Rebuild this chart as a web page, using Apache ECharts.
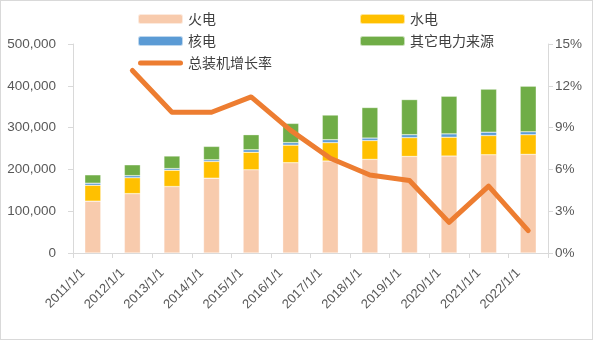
<!DOCTYPE html>
<html><head><meta charset="utf-8">
<script src="https://cdn.jsdelivr.net/npm/echarts@6/dist/echarts.min.js"></script>
<style>
html,body{margin:0;padding:0;background:#fff;}
#wrap{position:absolute;left:0;top:0;width:591px;height:338px;border:1px solid #d9d9d9;}
#c{width:591px;height:338px;}
</style></head>
<body><div id="wrap"><div id="c"></div></div>
<script>
const categories = ['2011/1/1','2012/1/1','2013/1/1','2014/1/1','2015/1/1','2016/1/1','2017/1/1','2018/1/1','2019/1/1','2020/1/1','2021/1/1','2022/1/1'];
const thermal = [124000,142000,159000,179000,199000,216000,220000,224000,231000,232000,235000,236000];
const hydro   = [38000,38000,39000,40000,42000,42000,44000,45000,45000,45000,46000,47000];
const nuclear = [5000,5000,4000,4000,6000,6000,7000,6000,7000,8000,8000,7000];
const other   = [20000,26000,30000,32000,36000,46000,59000,73000,84000,90000,103000,109000];
const growth  = [null,13.1,10.1,10.1,11.2,8.8,6.8,5.6,5.2,2.2,4.8,1.6];
const leftTicks = [0,100000,200000,300000,400000,500000];
const rightTicks = [0,3,6,9,12,15];

const chart = echarts.init(document.getElementById('c'));
const axisCol = '#d9d9d9', txt = '#595959';
const font = 'Liberation Sans, Arial, sans-serif';
const cjk = 'Noto Sans CJK SC, sans-serif';
const barItem = c => ({color:c, borderColor:'rgba(255,255,255,0.6)', borderWidth:0.5});
const lineIcon = 'path://M5,0 H85 A5,5 0 0 1 85,10 H5 A5,5 0 0 1 5,0 Z';
chart.setOption({
  animation:false,
  textStyle:{fontFamily:font},
  legend:[
    {left:131, top:6, orient:'vertical', itemWidth:45, itemHeight:10, itemGap:8,
     textStyle:{fontFamily:cjk, fontSize:14, color:'#404040'},
     data:['火电','核电',{name:'总装机增长率', icon:lineIcon}]},
    {left:353, top:6, orient:'vertical', itemWidth:45, itemHeight:10, itemGap:8,
     textStyle:{fontFamily:cjk, fontSize:14, color:'#404040'},
     data:['水电','其它电力来源']}
  ],
  grid:{left:72, right:44, top:43, bottom:86, containLabel:false},
  xAxis:{type:'category', data:categories,
    axisLine:{lineStyle:{color:axisCol}},
    axisTick:{show:true, alignWithLabel:false, length:5, lineStyle:{color:axisCol}},
    axisLabel:{rotate:45, fontSize:13, color:txt, fontFamily:font, margin:8, padding:[0,14,0,0]}},
  yAxis:[
    {type:'value', min:0, max:500000, interval:100000,
     axisLine:{show:true, lineStyle:{color:axisCol}},
     axisTick:{show:true, inside:false, length:5, lineStyle:{color:axisCol}},
     splitLine:{show:false},
     axisLabel:{fontSize:13.5, color:txt, margin:17,
       formatter:v=>v===0?'0':v.toLocaleString('en-US')}},
    {type:'value', min:0, max:15, interval:3, position:'right',
     axisLine:{show:true, lineStyle:{color:axisCol}},
     axisTick:{show:true, length:5, lineStyle:{color:axisCol}},
     splitLine:{show:false},
     axisLabel:{fontSize:13.5, color:txt, margin:7, formatter:'{value}%'}}
  ],
  series:[
    {name:'火电', type:'bar', stack:'a', barWidth:16, data:thermal, itemStyle:barItem('#F8CBAD')},
    {name:'水电', type:'bar', stack:'a', barWidth:16, data:hydro, itemStyle:barItem('#FFC000')},
    {name:'核电', type:'bar', stack:'a', barWidth:16, data:nuclear, itemStyle:barItem('#5B9BD5')},
    {name:'其它电力来源', type:'bar', stack:'a', barWidth:16, data:other, itemStyle:barItem('#70AD47')},
    {name:'总装机增长率', type:'line', yAxisIndex:1, data:growth, symbol:'none', z:10,
     lineStyle:{color:'#ED7D31', width:5, cap:'round', join:'round'}, itemStyle:{color:'#ED7D31'}}
  ]
});
</script></body></html>
